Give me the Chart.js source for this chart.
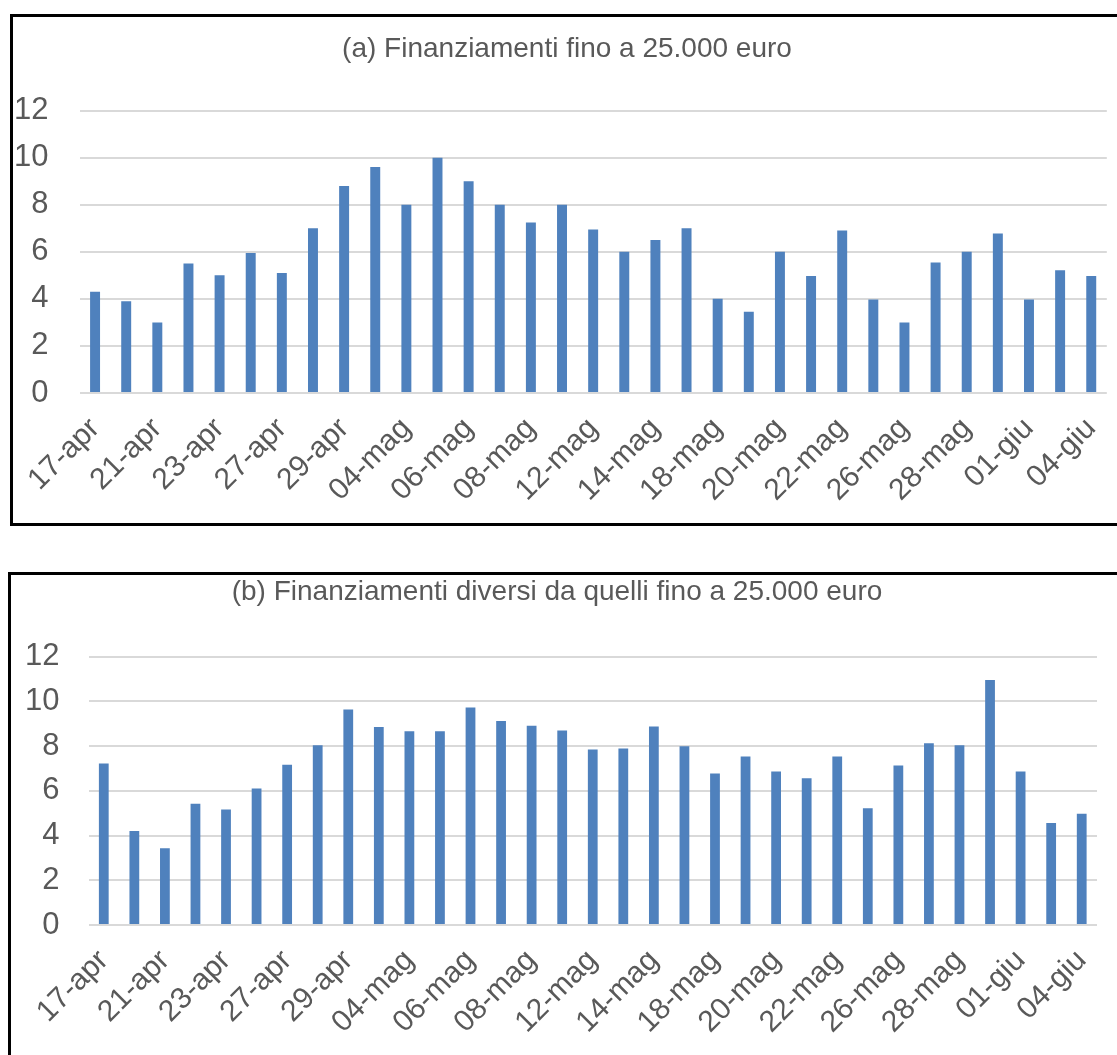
<!DOCTYPE html>
<html>
<head>
<meta charset="utf-8">
<script src="https://cdn.jsdelivr.net/npm/chart.js@4.4.1/dist/chart.umd.min.js"></script>
<style>
  html, body { margin: 0; padding: 0; background: #fff; overflow: hidden; }
  body { width: 1117px; height: 1055px; position: relative; }
  .panel { position: absolute; border: 3px solid #000; border-right: none; background: #fff; }
  #panel-a { left: 10px; top: 14px; width: 1120px; height: 506px; }
  #panel-b { left: 8px; top: 572px; width: 1120px; height: 500px; border-bottom: none; }
  .panel canvas { position: absolute; left: 0; top: 0; }
</style>
</head>
<body>
<div class="panel" id="panel-a"><canvas id="chart-a" width="1114" height="506"></canvas></div>
<div class="panel" id="panel-b"><canvas id="chart-b" width="1114" height="480"></canvas></div>
<script>
// business days, 17 April - 4 June
const days = [
  '17-apr', '20-apr', '21-apr', '22-apr', '23-apr', '24-apr', '27-apr', '28-apr', '29-apr', '30-apr',
  '04-mag', '05-mag', '06-mag', '07-mag', '08-mag', '11-mag', '12-mag', '13-mag', '14-mag', '15-mag',
  '18-mag', '19-mag', '20-mag', '21-mag', '22-mag', '25-mag', '26-mag', '27-mag', '28-mag', '29-mag',
  '01-giu', '03-giu', '04-giu'
];

// (a) loans up to 25.000 euro
const upTo25k = [
  4.3, 3.9, 3.0, 5.5, 5.0, 5.95, 5.1, 7.0, 8.8, 9.6,
  8.0, 10.0, 9.0, 8.0, 7.25, 8.0, 6.95, 6.0, 6.5, 7.0,
  4.0, 3.45, 6.0, 4.97, 6.9, 3.97, 3.0, 5.55, 6.0, 6.78,
  3.97, 5.22, 4.97
];

// (b) other loans
const otherLoans = [
  7.22, 4.2, 3.43, 5.42, 5.16, 6.1, 7.17, 8.04, 9.63, 8.85,
  8.66, 8.66, 9.72, 9.12, 8.91, 8.7, 7.85, 7.89, 8.87, 7.99,
  6.77, 7.53, 6.86, 6.56, 7.53, 5.22, 7.13, 8.13, 8.04, 10.95,
  6.86, 4.56, 4.97
];

const yTicks = [0, 2, 4, 6, 8, 10, 12];

const FONT = '"Liberation Sans", Arial, sans-serif';
const TEXT = '#595959';

// nudge the title sideways (the title box otherwise centres on the padded canvas)
const shiftTitle = {
  id: 'shiftTitle',
  afterLayout(chart, args, opts) {
    const t = chart.titleBlock;
    if (t && opts.dx) {
      t.left += opts.dx;
      t.right += opts.dx;
    }
  }
};

function makeChart(id, title, values, opt) {
  const ctx = document.getElementById(id).getContext('2d');
  return new Chart(ctx, {
    type: 'bar',
    data: {
      labels: days,
      datasets: [{
        data: values,
        backgroundColor: '#4f81bd',
        barPercentage: 0.32,
        categoryPercentage: 1
      }]
    },
    plugins: [shiftTitle],
    options: {
      responsive: false,
      animation: false,
      layout: { padding: { left: 0, right: opt.padRight, top: 0, bottom: 0 } },
      plugins: {
        legend: { display: false },
        tooltip: { enabled: false },
        shiftTitle: { dx: opt.titleDx },
        title: {
          display: true,
          text: title,
          color: TEXT,
          font: { family: FONT, size: 28, weight: 'normal', lineHeight: 1.2 },
          padding: { top: opt.titleTop, bottom: opt.titleBottom }
        }
      },
      scales: {
        x: {
          grid: { display: false },
          border: { display: false },
          ticks: {
            autoSkip: false,
            minRotation: 45,
            maxRotation: 45,
            padding: 10,
            color: TEXT,
            font: { family: FONT, size: 30 },
            callback: (v, i) => i % 2 === 0 ? days[i] : ''
          },
          afterFit: (s) => { s.height = 130; }
        },
        y: {
          min: yTicks[0],
          max: yTicks[yTicks.length - 1],
          border: { display: false },
          grid: { color: '#d9d9d9', lineWidth: 2, drawTicks: false },
          afterBuildTicks: (s) => { s.ticks = yTicks.map(v => ({ value: v })); },
          ticks: {
            padding: opt.tickPad,
            color: TEXT,
            font: { family: FONT, size: 31 }
          },
          afterFit: (s) => { s.width = opt.yWidth; }
        }
      }
    }
  });
}

makeChart('chart-a', '(a) Finanziamenti fino a 25.000 euro', upTo25k,
  { padRight: 20, yWidth: 66.5, tickPad: 31, titleTop: 15, titleBottom: 45, titleDx: 7 });

makeChart('chart-b', '(b) Finanziamenti diversi da quelli fino a 25.000 euro', otherLoans,
  { padRight: 28, yWidth: 77.5, tickPad: 29, titleTop: 0, titleBottom: 48, titleDx: 3 });
</script>
</body>
</html>
